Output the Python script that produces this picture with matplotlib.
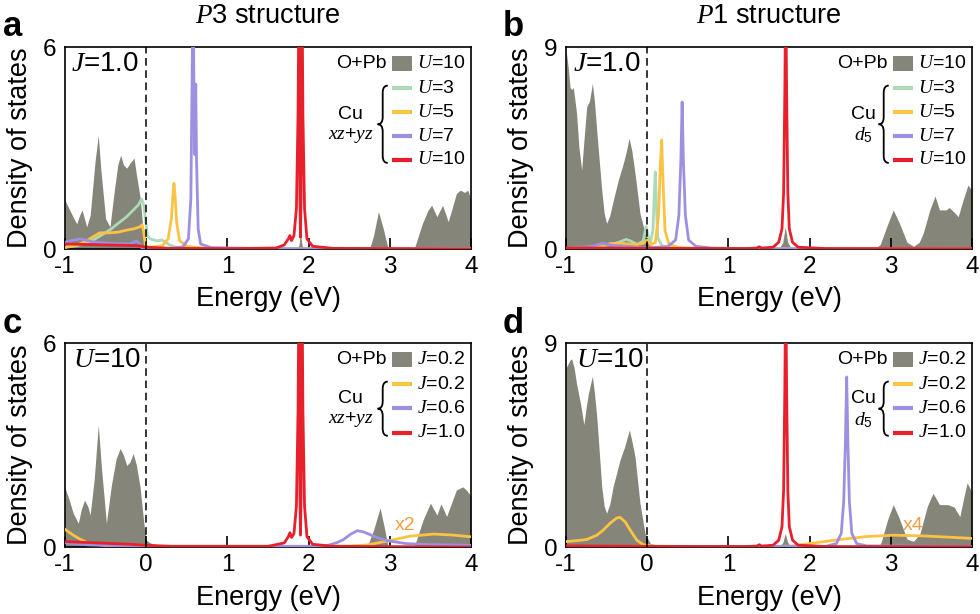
import matplotlib
matplotlib.use("Agg")
import matplotlib.pyplot as plt
from matplotlib.patches import Rectangle, PathPatch
from matplotlib.path import Path

plt.rcParams['font.family'] = ['Liberation Sans', 'DejaVu Sans']
plt.rcParams['mathtext.fontset'] = 'custom'
plt.rcParams['mathtext.it'] = 'Liberation Serif:italic'
plt.rcParams['mathtext.rm'] = 'Liberation Sans'
plt.rcParams['mathtext.sf'] = 'Liberation Sans'
plt.rcParams['axes.unicode_minus'] = False

# colours
GRAY = '#86857a'
GREEN = '#acd9b6'
YELLOW = '#fbc343'
PURPLE = '#9f8fe0'
RED = '#e8202c'
ORANGE = '#f89c42'

# ---------------- data ----------------
# panel a : P3, J=1.0
a_gray_e = [-1.0, -0.95, -0.9, -0.856, -0.82, -0.79, -0.76, -0.733, -0.69, -0.63, -0.59, -0.56, -0.5,
            -0.446, -0.4, -0.35, -0.314, -0.28, -0.24, -0.2, -0.15, -0.12, -0.076, -0.04, 0.0, 0.05,
            0.15, 0.3, 1.85, 1.88, 1.9, 1.92, 1.95, 2.75, 2.8, 2.86, 2.92, 2.98, 3.3, 3.4, 3.47,
            3.515, 3.58, 3.65, 3.72, 3.82, 3.87, 3.92, 3.96, 4.0]
a_gray_d = [1.45, 1.2, 0.95, 0.75, 1.0, 1.16, 0.9, 0.66, 1.0, 2.6, 3.38, 2.4, 0.9,
            0.66, 1.6, 2.5, 2.79, 2.5, 2.4, 2.55, 2.7, 2.2, 1.55, 0.6, 0.1, 0.05,
            0.02, 0.0, 0.0, 0.1, 0.45, 0.1, 0.0, 0.0, 0.4, 1.11, 0.6, 0.0, 0.0, 0.75, 1.15,
            1.3, 0.96, 1.3, 0.81, 1.65, 1.75, 1.68, 1.75, 1.45]
a_u3_e = [-1.0, -0.85, -0.65, -0.45, -0.24, -0.1, -0.056, -0.03, 0.0, 0.014, 0.05, 0.088, 0.14,
          0.19, 0.24, 0.29, 0.35, 0.45, 0.6, 1.5, 4.0]
a_u3_d = [0.05, 0.1, 0.27, 0.56, 0.96, 1.3, 1.48, 1.3, 0.7, 0.4, 0.3, 0.27, 0.24,
          0.27, 0.2, 0.12, 0.06, 0.03, 0.01, 0.0, 0.0]
a_u5_e = [-1.0, -0.85, -0.75, -0.65, -0.57, -0.45, -0.35, -0.24, -0.15, -0.076, -0.05, -0.03,
          -0.01, 0.05, 0.2, 0.27, 0.31, 0.33, 0.342, 0.355, 0.375, 0.41, 0.5, 0.7, 1.2, 4.0]
a_u5_d = [0.05, 0.12, 0.22, 0.37, 0.48, 0.48, 0.5, 0.56, 0.6, 0.66, 0.72, 0.5,
          0.1, 0.05, 0.1, 0.3, 0.9, 1.6, 1.95, 1.6, 0.8, 0.25, 0.08, 0.03, 0.01, 0.0]
a_u7_e = [-1.0, -0.9, -0.815, -0.7, -0.63, -0.4, -0.2, -0.12, -0.08, -0.05, 0.3, 0.45, 0.52,
          0.55, 0.565, 0.578, 0.59, 0.6, 0.61, 0.62, 0.64, 0.67, 0.8, 1.5, 4.0]
a_u7_d = [0.2, 0.26, 0.3, 0.24, 0.2, 0.16, 0.15, 0.24, 0.15, 0.02, 0.02, 0.06, 0.3,
          1.5, 5.0, 8.0, 4.0, 2.8, 4.9, 2.6, 0.6, 0.15, 0.04, 0.01, 0.0]
a_u10_e = [-1.0, -0.5, -0.1, 0.0, 0.3, 1.0, 1.6, 1.7, 1.75, 1.77, 1.79, 1.82, 1.85, 1.87, 1.885,
           1.893, 1.9, 1.907, 1.915, 1.93, 1.95, 1.98, 2.05, 2.3, 4.0]
a_u10_d = [0.15, 0.12, 0.1, 0.05, 0.02, 0.01, 0.03, 0.12, 0.3, 0.4, 0.25, 0.4, 1.2, 4.0, 9.0,
           1.5, 0.35, 1.5, 9.0, 4.0, 1.2, 0.3, 0.08, 0.02, 0.0]

# panel b : P1, J=1.0
b_gray_e = [-1.0, -0.97, -0.95, -0.93, -0.91, -0.87, -0.84, -0.807, -0.78, -0.745, -0.71, -0.675,
            -0.65, -0.62, -0.56, -0.53, -0.5, -0.46, -0.417, -0.356, -0.294, -0.26, -0.224, -0.19,
            -0.15, -0.089, -0.027, 0.02, 0.1, 0.3, 1.62, 1.67, 1.7, 1.73, 1.78, 2.8, 2.87, 2.95,
            3.03, 3.1, 3.2, 3.28, 3.35, 3.4, 3.48, 3.545, 3.6, 3.68, 3.72, 3.79, 3.83, 3.89, 3.95, 4.0]
b_gray_d = [8.9, 8.0, 7.2, 7.1, 7.2, 6.05, 4.5, 3.52, 4.8, 6.34, 6.6, 7.38,
            6.6, 5.2, 2.63, 1.6, 1.14, 1.5, 2.18, 3.07, 3.82, 4.3, 4.93, 4.4,
            3.37, 1.59, 0.71, 0.2, 0.05, 0.0, 0.0, 0.3, 1.0, 0.3, 0.0, 0.0, 0.2, 1.0,
            1.74, 1.2, 0.3, 0.12, 0.3, 0.71, 1.74, 2.36, 1.74, 1.74, 1.85, 1.6, 1.44, 2.18, 2.85, 2.6]
b_u3_e = [-1.0, -0.6, -0.45, -0.35, -0.26, -0.2, -0.12, -0.05, -0.015, 0.01, 0.04, 0.07, 0.085,
          0.1, 0.115, 0.13, 0.18, 0.3, 0.6, 4.0]
b_u3_d = [0.03, 0.1, 0.2, 0.3, 0.43, 0.35, 0.2, 0.35, 1.0, 0.6, 0.3, 0.8, 2.2,
          3.44, 1.8, 0.5, 0.15, 0.05, 0.01, 0.0]
b_u5_e = [-1.0, -0.6, -0.45, -0.3, -0.15, -0.05, 0.0, 0.05, 0.1, 0.14, 0.16, 0.178, 0.195, 0.22,
          0.27, 0.4, 0.8, 4.0]
b_u5_d = [0.03, 0.1, 0.25, 0.25, 0.2, 0.25, 0.4, 0.2, 0.3, 1.5, 3.6, 4.86, 3.0, 0.8,
          0.2, 0.06, 0.01, 0.0]
b_u7_e = [-1.0, -0.7, -0.55, -0.4, -0.2, 0.0, 0.25, 0.35, 0.39, 0.415, 0.43, 0.445, 0.47, 0.51,
          0.6, 0.8, 1.5, 4.0]
b_u7_d = [0.03, 0.1, 0.25, 0.15, 0.1, 0.05, 0.1, 0.4, 1.5, 4.0, 6.55, 4.0, 1.5, 0.4,
          0.12, 0.04, 0.01, 0.0]
b_u10_e = [-1.0, 0.0, 1.2, 1.35, 1.38, 1.41, 1.55, 1.62, 1.66, 1.68, 1.695, 1.706, 1.717, 1.732,
           1.75, 1.79, 1.86, 2.2, 4.0]
b_u10_d = [0.05, 0.03, 0.02, 0.04, 0.1, 0.04, 0.08, 0.3, 0.9, 2.5, 7.0, 12.0, 7.0, 2.5,
           0.9, 0.3, 0.08, 0.02, 0.01]

# panel c : P3, U=10
c_gray_e = [-1.0, -0.95, -0.9, -0.836, -0.8, -0.76, -0.72, -0.69, -0.64, -0.59, -0.55, -0.49,
            -0.43, -0.37, -0.32, -0.28, -0.24, -0.2, -0.16, -0.12, -0.076, -0.02, 0.0, 0.05,
            0.15, 0.3, 2.72, 2.8, 2.88, 2.93, 2.98, 3.3, 3.41, 3.5, 3.58, 3.63, 3.7, 3.82, 3.9,
            3.94, 4.0]
c_gray_d = [1.74, 1.4, 1.0, 0.7, 1.1, 1.38, 1.2, 0.94, 2.0, 3.59, 2.3, 0.7,
            1.8, 2.6, 2.9, 2.7, 2.4, 2.5, 2.75, 2.4, 1.77, 0.5, 0.2, 0.12,
            0.05, 0.0, 0.0, 0.5, 1.15, 0.6, 0.0, 0.0, 0.8, 1.29, 0.94, 1.27, 0.9, 1.68, 1.77,
            1.68, 1.5]
c_j02_e = [-1.0, -0.9, -0.815, -0.7, -0.5, 0.0, 2.0, 2.5, 2.72, 2.85, 3.0, 3.25, 3.54, 3.78, 4.0]
c_j02_d = [0.52, 0.35, 0.23, 0.1, 0.04, 0.02, 0.02, 0.03, 0.06, 0.12, 0.19, 0.32, 0.38, 0.35, 0.3]
c_j06_e = [-1.0, -0.7, 0.0, 2.1, 2.24, 2.35, 2.43, 2.52, 2.6, 2.68, 2.76, 2.86, 2.96, 3.2, 3.5, 4.0]
c_j06_d = [0.12, 0.06, 0.02, 0.02, 0.05, 0.13, 0.22, 0.38, 0.48, 0.44, 0.36, 0.26, 0.19, 0.1, 0.07, 0.05]
c_j10_e = [-1.0, -0.6, -0.2, 0.0, 0.3, 1.5, 1.7, 1.75, 1.77, 1.79, 1.82, 1.85, 1.87, 1.885,
           1.893, 1.9, 1.907, 1.915, 1.93, 1.95, 1.98, 2.05, 2.3, 4.0]
c_j10_d = [0.16, 0.12, 0.08, 0.05, 0.02, 0.02, 0.12, 0.3, 0.42, 0.28, 0.4, 1.2, 4.0, 9.0,
           1.5, 0.35, 1.5, 9.0, 4.0, 1.2, 0.3, 0.08, 0.02, 0.0]

# panel d : P1, U=10
d_gray_e = [-1.0, -0.95, -0.93, -0.9, -0.87, -0.82, -0.78, -0.75, -0.725, -0.675, -0.65, -0.62,
            -0.56, -0.53, -0.5, -0.46, -0.42, -0.335, -0.28, -0.22, -0.19, -0.15, -0.089, -0.027,
            0.04, 0.15, 0.3, 1.62, 1.67, 1.7, 1.73, 1.78, 2.85, 2.88, 2.96, 3.03, 3.1, 3.2, 3.28,
            3.36, 3.45, 3.52, 3.6, 3.7, 3.78, 3.85, 3.9, 3.94, 4.0]
d_gray_d = [7.9, 8.25, 8.3, 7.9, 7.2, 6.3, 5.4, 6.2, 6.76, 7.54, 6.8, 5.7,
            2.66, 1.8, 1.49, 1.9, 2.66, 3.84, 4.4, 5.16, 4.7, 3.98, 1.93, 0.6,
            0.15, 0.06, 0.0, 0.0, 0.2, 0.6, 0.2, 0.0, 0.0, 0.2, 1.2, 1.87, 1.3, 0.35, 0.25,
            0.6, 1.8, 2.37, 1.87, 1.87, 1.76, 1.34, 2.2, 2.84, 2.4]
d_j02_e = [-1.0, -0.87, -0.745, -0.62, -0.54, -0.46, -0.38, -0.335, -0.27, -0.21, -0.13, -0.05,
           0.1, 1.2, 1.76, 2.0, 2.37, 2.7, 3.03, 3.4, 4.0]
d_j02_d = [0.24, 0.28, 0.33, 0.52, 0.75, 1.04, 1.27, 1.31, 1.1, 0.75, 0.31, 0.1,
           0.03, 0.02, 0.04, 0.15, 0.33, 0.46, 0.52, 0.49, 0.38]
d_j06_e = [-1.0, 0.0, 2.2, 2.33, 2.39, 2.42, 2.44, 2.457, 2.472, 2.49, 2.52, 2.58, 2.7, 4.0]
d_j06_d = [0.02, 0.01, 0.03, 0.15, 0.6, 2.0, 4.5, 7.5, 4.5, 2.0, 0.6, 0.15, 0.05, 0.02]
d_j10_e = [-1.0, 0.0, 1.2, 1.35, 1.38, 1.41, 1.55, 1.62, 1.66, 1.68, 1.695, 1.706, 1.717, 1.732,
           1.75, 1.79, 1.86, 2.2, 4.0]
d_j10_d = [0.05, 0.03, 0.02, 0.04, 0.1, 0.04, 0.08, 0.3, 0.9, 2.5, 7.0, 12.0, 7.0, 2.5,
           0.9, 0.3, 0.08, 0.02, 0.01]

u_labels = ['$U$=3', '$U$=5', '$U$=7', '$U$=10']
j_labels = ['$J$=0.2', '$J$=0.6', '$J$=1.0']


def brace(ax, x_tip, x_end, y_top, y_bot):
    # left curly brace "{" in axes coords
    xm = (x_tip + x_end) / 2
    ym = (y_top + y_bot) / 2
    r = 0.035
    verts = [(x_end, y_top), (xm, y_top), (xm, y_top - r),
             (xm, ym + r), (xm, ym), (x_tip, ym),
             (xm, ym), (xm, ym - r),
             (xm, y_bot + r), (xm, y_bot), (x_end, y_bot)]
    codes = [Path.MOVETO, Path.CURVE3, Path.CURVE3,
             Path.LINETO, Path.CURVE3, Path.CURVE3,
             Path.CURVE3, Path.CURVE3,
             Path.LINETO, Path.CURVE3, Path.CURVE3]
    ax.add_patch(PathPatch(Path(verts, codes), transform=ax.transAxes, fc='none',
                           ec='k', lw=1.3, clip_on=False, zorder=6))


def legend(ax, gray_label, labels, colors, cu_sub, rows, x0, cu_x):
    lx0, lx1 = x0, x0 + 0.048
    tx = x0 + 0.062
    ax.text(x0 - 0.014, rows[0], 'O+Pb', transform=ax.transAxes, ha='right', va='center', fontsize=14)
    ax.add_patch(Rectangle((lx0, rows[0] - 0.037), lx1 - lx0, 0.074, transform=ax.transAxes,
                           fc=GRAY, ec='none', zorder=6))
    ax.text(tx, rows[0], gray_label, transform=ax.transAxes, ha='left', va='center', fontsize=14)
    for lab, col, yy in zip(labels, colors, rows[1:]):
        ax.plot([lx0, lx1], [yy, yy], color=col, lw=3, transform=ax.transAxes, zorder=6,
                solid_capstyle='butt')
        ax.text(tx, yy, lab, transform=ax.transAxes, ha='left', va='center', fontsize=14)
    top = rows[1] + 0.012
    bot = rows[-1] - 0.015
    brace(ax, x0 - 0.036, x0 - 0.011, top, bot)
    mid = (top + bot) / 2
    ax.text(cu_x, mid + 0.05, 'Cu', transform=ax.transAxes, ha='center', va='center', fontsize=14)
    ax.text(cu_x, mid - 0.055, cu_sub, transform=ax.transAxes, ha='center', va='center', fontsize=14)


fig = plt.figure(figsize=(9.8, 6.14), dpi=100)
w, h = 406 / 980, 202 / 614
axa = fig.add_axes([65 / 980, (614 - 249) / 614, w, h])
axb = fig.add_axes([566 / 980, (614 - 249) / 614, w, h])
axc = fig.add_axes([65 / 980, (614 - 547) / 614, w, 204 / 614])
axd = fig.add_axes([566 / 980, (614 - 547) / 614, w, 204 / 614])

panels = [
    (axa, 6, a_gray_e, a_gray_d, [(a_u3_e, a_u3_d, GREEN), (a_u5_e, a_u5_d, YELLOW),
                                  (a_u7_e, a_u7_d, PURPLE), (a_u10_e, a_u10_d, RED)]),
    (axb, 9, b_gray_e, b_gray_d, [(b_u3_e, b_u3_d, GREEN), (b_u5_e, b_u5_d, YELLOW),
                                  (b_u7_e, b_u7_d, PURPLE), (b_u10_e, b_u10_d, RED)]),
    (axc, 6, c_gray_e, c_gray_d, [(c_j02_e, c_j02_d, YELLOW), (c_j06_e, c_j06_d, PURPLE),
                                  (c_j10_e, c_j10_d, RED)]),
    (axd, 9, d_gray_e, d_gray_d, [(d_j02_e, d_j02_d, YELLOW), (d_j06_e, d_j06_d, PURPLE),
                                  (d_j10_e, d_j10_d, RED)]),
]

for ax, ymax, ge, gd, curves in panels:
    ax.fill_between(ge, 0, gd, color=GRAY, lw=0, zorder=1)
    for e, d, col in curves:
        ax.plot(e, d, color=col, lw=2, zorder=3)
    ax.axvline(0, color='k', ls=(0, (5, 3)), lw=1.1, zorder=4)
    ax.set_xlim(-1, 4)
    ax.set_ylim(0, ymax)
    ax.set_xticks([-1, 0, 1, 2, 3, 4])
    ax.set_yticks([0, ymax])
    ax.tick_params(axis='x', direction='in', length=8, width=1.2, labelsize=17.5, pad=5)
    ax.tick_params(axis='y', length=0, labelsize=17.5, pad=6)
    for sp in ax.spines.values():
        sp.set_linewidth(1.2)
    ax.set_xlabel('Energy (eV)', fontsize=19.5)
    ax.set_ylabel('Density of states', fontsize=19.5)
    ax.xaxis.set_label_coords(0.5, -0.185)
    ax.yaxis.set_label_coords(-0.08, 0.5)

# inset labels
axa.text(0.014, 0.914, '$J$=1.0', transform=axa.transAxes, fontsize=20, va='center')
axb.text(0.018, 0.914, '$J$=1.0', transform=axb.transAxes, fontsize=20, va='center')
axc.text(0.02, 0.917, '$U$=10', transform=axc.transAxes, fontsize=20, va='center')
axd.text(0.025, 0.917, '$U$=10', transform=axd.transAxes, fontsize=20, va='center')

axa.text(0.5, 1 + 24 / 202, '$P$3 structure', transform=axa.transAxes, ha='center', va='baseline',
         fontsize=19.5)
axb.text(0.5, 1 + 24 / 202, '$P$1 structure', transform=axb.transAxes, ha='center', va='baseline',
         fontsize=19.5)

legend(axa, '$U$=10', u_labels, [GREEN, YELLOW, PURPLE, RED], '$xz$+$yz$',
       [0.916, 0.797, 0.678, 0.559, 0.441], 0.806, 0.704)
legend(axb, '$U$=10', u_labels, [GREEN, YELLOW, PURPLE, RED], '$d_5$',
       [0.916, 0.797, 0.678, 0.559, 0.441], 0.806, 0.732)
legend(axc, '$J$=0.2', j_labels, [YELLOW, PURPLE, RED], '$xz$+$yz$',
       [0.917, 0.799, 0.68, 0.56], 0.806, 0.704)
legend(axd, '$J$=0.2', j_labels, [YELLOW, PURPLE, RED], '$d_5$',
       [0.917, 0.799, 0.68, 0.56], 0.806, 0.732)

axc.text(3.19, 0.62, 'x2', color=ORANGE, fontsize=14, ha='center', va='center', zorder=7)
axd.text(3.28, 0.93, 'x4', color=ORANGE, fontsize=14, ha='center', va='center', zorder=7)

# panel letters
for lab, x, y in [('a', 3, 36), ('b', 503, 36), ('c', 3, 333), ('d', 503, 333)]:
    fig.text(x / 980, 1 - y / 614, lab, fontsize=25, fontweight='bold', ha='left', va='baseline')

plt.savefig('out.png', dpi=100)
